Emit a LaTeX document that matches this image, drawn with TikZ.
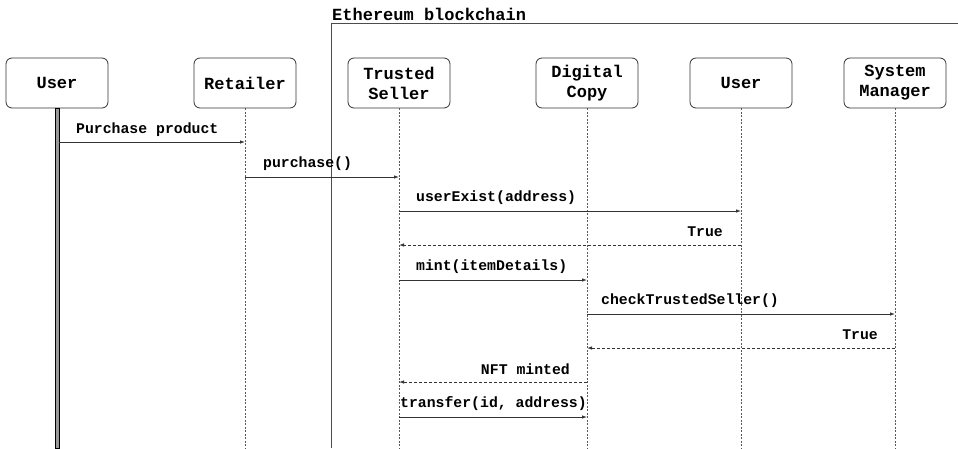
\documentclass[tikz,border=0pt]{standalone}
\usepackage{fontspec}
\setmonofont{Liberation Mono}
\usetikzlibrary{arrows.meta}
\tikzset{
  actor/.style={draw=black!80, line width=0.8pt, rounded corners=6pt, minimum width=102pt,
    minimum height=50pt, align=center, inner sep=0pt,
    font=\ttfamily\bfseries\fontsize{17}{20}\selectfont},
  lifeline/.style={draw=black!65, line width=0.8pt, dash pattern=on 2pt off 1.5pt},
  msg/.style={draw=black!80, line width=0.8pt, -{Latex[length=5pt,width=3.5pt]}},
  reply/.style={msg, dash pattern=on 3pt off 2pt},
  msglabel/.style={inner sep=0pt, font=\ttfamily\bfseries\fontsize{14.8}{17}\selectfont},
  frame/.style={draw=black!70, line width=0.9pt}
}
\begin{document}
\begin{tikzpicture}[x=1pt,y=1pt]
\useasboundingbox (0,0) rectangle (958,-448);

% blockchain frame
\coordinate (fTop) at (331,-23);
\coordinate (fRight) at (958,-23);
\coordinate (fBot) at (331,-448);
\draw[frame] (fBot) -- (fTop) -- (fRight);
\node[msglabel, font=\ttfamily\bfseries\fontsize{17}{20}\selectfont, anchor=west] (chain) at (332,-14) {Ethereum blockchain};

% participants
\node[actor] (u)  at (57,-83)  {User};
\node[actor] (r)  at (245,-83) {Retailer};
\node[actor] (ts) at (399,-83) {Trusted\\Seller};
\node[actor] (dc) at (587,-83) {Digital\\Copy};
\node[actor] (u2) at (741,-83) {User};
\node[actor] (sm) at (895,-83) {System\\Manager};

% lifelines
\coordinate (bottom) at (0,-448);
\draw[fill=black!40, draw=black, line width=0.8pt] ([xshift=-2pt]u.south) rectangle ([xshift=2pt]u.south |- bottom);
\foreach \p in {r,ts,dc,u2,sm}
  \draw[lifeline] (\p.south) -- (\p.south |- bottom);

% message rows
\coordinate (m1) at (0,-142);
\coordinate (m2) at (0,-177);
\coordinate (m3) at (0,-211);
\coordinate (m4) at (0,-245);
\coordinate (m5) at (0,-280);
\coordinate (m6) at (0,-314);
\coordinate (m7) at (0,-348);
\coordinate (m8) at (0,-382);
\coordinate (m9) at (0,-417);

\draw[msg] ([xshift=2pt]u |- m1) -- (r |- m1);
\node[msglabel, anchor=west] (l1) at (76,-130) {Purchase product};

\draw[msg] (r |- m2) -- (ts |- m2);
\node[msglabel, anchor=west] (l2) at (263,-164) {purchase()};

\draw[msg] (ts |- m3) -- (u2 |- m3);
\node[msglabel, anchor=west] (l3) at (416,-198) {userExist(address)};

\draw[reply] (u2 |- m4) -- (ts |- m4);
\node[msglabel, anchor=east] (l4) at (723,-232) {True};

\draw[msg] (ts |- m5) -- (dc |- m5);
\node[msglabel, anchor=west] (l5) at (416,-267) {mint(itemDetails)};

\draw[msg] (dc |- m6) -- (sm |- m6);
\node[msglabel, anchor=west] (l6) at (601,-301) {checkTrustedSeller()};

\draw[reply] (sm |- m7) -- (dc |- m7);
\node[msglabel, anchor=east] (l7) at (878,-335) {True};

\draw[reply] (dc |- m8) -- (ts |- m8);
\node[msglabel, anchor=east] (l8) at (570,-369) {NFT minted};

\draw[msg] (ts |- m9) -- (dc |- m9);
\node[msglabel, anchor=west] (l9) at (400,-404) {transfer(id, address)};
\end{tikzpicture}
\end{document}
